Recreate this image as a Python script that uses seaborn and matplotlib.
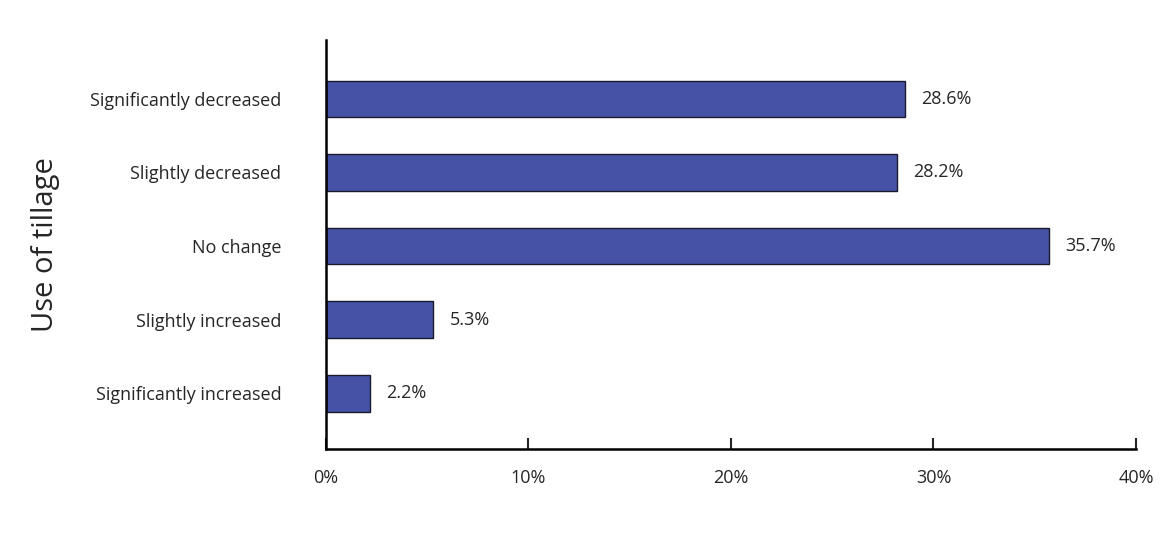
import matplotlib
matplotlib.use("Agg")
import matplotlib.pyplot as plt
import seaborn as sns
import pandas as pd

categories = ["Significantly decreased", "Slightly decreased", "No change",
              "Slightly increased", "Significantly increased"]
values = [28.6, 28.2, 35.7, 5.3, 2.2]
xticks = [0, 10, 20, 30, 40]

sns.set_style("white")
plt.rcParams['font.family'] = ['Open Sans', 'DejaVu Sans']

df = pd.DataFrame({"cat": categories, "val": values})
fig = plt.figure(figsize=(11.76, 5.34), dpi=100)
ax = fig.add_axes([0.277, 0.159, 0.689, 0.766])
sns.barplot(data=df, y="cat", x="val", orient="h", color="#4552A5",
            saturation=1, width=0.5, edgecolor="#1a1a2e", linewidth=1, ax=ax)
for i, v in enumerate(values):
    ax.text(v + 0.8, i, f"{v}%", va="center", ha="left", fontsize=13)
ax.set_xlim(0, 40)
ax.set_ylim(4.76, -0.8)
ax.set_xticks(xticks)
ax.set_xticklabels([f"{t}%" for t in xticks], fontsize=13)
ax.tick_params(axis="x", direction="in", length=8, width=1.5, pad=14, bottom=True)
ax.tick_params(axis="y", length=0, labelsize=13, pad=32)
for s in ["top", "right"]:
    ax.spines[s].set_visible(False)
for s in ["left", "bottom"]:
    ax.spines[s].set_linewidth(1.8)
    ax.spines[s].set_color("black")
ax.set_xlabel("")
ax.set_ylabel("Use of tillage", fontsize=21, labelpad=22)
fig.savefig("out.png", dpi=100)
